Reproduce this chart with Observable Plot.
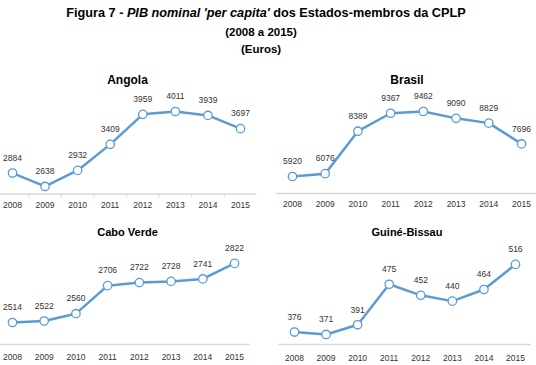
<!DOCTYPE html>
<html><head><meta charset="utf-8">
<script src="https://cdn.jsdelivr.net/npm/d3@7"></script>
<script src="https://cdn.jsdelivr.net/npm/@observablehq/plot@0.6"></script>
<style>
body{margin:0;background:#fff;}
#wrap{position:relative;width:536px;height:365px;overflow:hidden;font-family:"Liberation Sans",Arial,sans-serif;}
.t{position:absolute;text-align:center;font-weight:bold;color:#000;white-space:nowrap;}
.panel{position:absolute;}
</style></head><body>
<div id="wrap">
 <div class="t" style="left:0;width:532px;top:5px;font-size:12.7px;line-height:16px">Figura 7 - <i>PIB nominal 'per capita'</i> dos Estados-membros da CPLP</div>
 <div class="t" style="left:0;width:522px;top:25px;font-size:11.5px;line-height:14px">(2008 a 2015)</div>
 <div class="t" style="left:0;width:522px;top:42px;font-size:11.5px;line-height:14px">(Euros)</div>
</div>
<script>
const years = [2008, 2009, 2010, 2011, 2012, 2013, 2014, 2015];
const countries = ["Angola", "Brasil", "Cabo Verde", "Guiné-Bissau"];
const angola = [2884, 2638, 2932, 3409, 3959, 4011, 3939, 3697];
const brasil = [5920, 6076, 8389, 9367, 9462, 9090, 8829, 7696];
const caboVerde = [2514, 2522, 2560, 2706, 2722, 2728, 2741, 2822];
const guineBissau = [376, 371, 391, 475, 452, 440, 464, 516];
const yDomains = [[2500, 4500], [5000, 11000], [2400, 2900], [350, 550]];

const series = [angola, brasil, caboVerde, guineBissau];
const layout = [
  {left: 0,   top: 60,  height: 152, ml: -4.3, mr: 11.7, mt: 24.3, mb: 18.5, tdy: -9.3,  tdx: 1, tfs: 12, pad: 8,  ticks: true},
  {left: 268, top: 60,  height: 152, ml: 7.6,  mr: -1.4, mt: 22.8, mb: 19.1, tdy: -7.8,  tdx: 0, tfs: 12, pad: 8,  ticks: false},
  {left: 0,   top: 212, height: 153, ml: -3.9, mr: 18.1, mt: 35.9, mb: 21.1, tdy: -19.9, tdx: 4, tfs: 11, pad: 10, ticks: false},
  {left: 268, top: 212, height: 153, ml: 10.2, mr: 5.2,  mt: 35.5, mb: 20.9, tdy: -19.8, tdx: 2, tfs: 11, pad: 10, ticks: false}
];
const blue = "#5b9bd5";
const wrap = document.getElementById("wrap");

countries.forEach((name, i) => {
  const L = layout[i];
  const data = years.map((year, j) => ({year, value: series[i][j]}));
  const marks = [
    Plot.ruleY([yDomains[i][0]], {stroke: "#d9d9d9", strokeWidth: 1.5}),
    Plot.axisX(years, {tickSize: 0, tickPadding: L.pad, tickFormat: d => String(d), label: null, fill: "#333", fontSize: 8.5}),
    Plot.line(data, {x: "year", y: "value", stroke: blue, strokeWidth: 2.5}),
    Plot.dot(data, {x: "year", y: "value", r: 4.2, fill: "white", stroke: blue, strokeWidth: 1.3}),
    Plot.text(data, {x: "year", y: "value", text: d => String(d.value), dy: -15, fill: "#333", fontSize: 8.5}),
    Plot.text([name], {frameAnchor: "top", dy: L.tdy, dx: L.tdx, fontWeight: "bold", fontSize: L.tfs, fill: "#000"})
  ];
  if (L.ticks) marks.splice(1, 0, Plot.axisX(years.slice(0, -1).map(d => d + 0.5), {tickSize: 4, tickFormat: () => "", label: null, stroke: "#d9d9d9"}));
  const chart = Plot.plot({
    width: 268, height: L.height,
    marginLeft: L.ml, marginRight: L.mr, marginTop: L.mt, marginBottom: L.mb,
    x: {domain: [2007.5, 2015.5], axis: null, label: null},
    y: {domain: yDomains[i], axis: null, label: null},
    style: {fontFamily: "'Liberation Sans', Arial, sans-serif", fontSize: "8.5px", background: "transparent", color: "#333"},
    marks
  });
  chart.classList.add("panel");
  chart.style.left = L.left + "px";
  chart.style.top = L.top + "px";
  wrap.appendChild(chart);
});
</script>
</body></html>
